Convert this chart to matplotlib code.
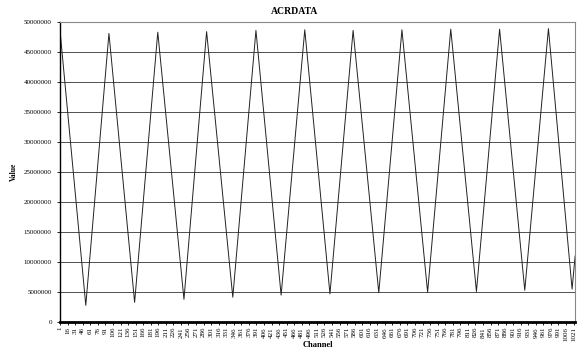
import matplotlib
matplotlib.use("Agg")
import matplotlib.pyplot as plt

# corner points of the wave (channel, value)
channels = [1, 52, 98, 149, 195, 247, 292, 344, 390, 440, 487, 537,
            583, 634, 680, 731, 777, 828, 874, 924, 971, 1018, 1024]
values = [48400000, 2800000, 48100000, 3300000, 48300000, 3800000,
          48400000, 4150000, 48600000, 4500000, 48700000, 4700000,
          48600000, 4900000, 48700000, 5000000, 48800000, 5100000,
          48800000, 5300000, 48900000, 5500000, 11000000]

x_ticks = list(range(1, 1022, 15))
y_ticks = list(range(0, 50000001, 5000000))

plt.rcParams['font.family'] = ['Liberation Serif', 'DejaVu Serif']

fig = plt.figure(figsize=(5.78, 3.49), dpi=100)
ax = fig.add_axes([0.104, 0.077, 0.891, 0.86])

ax.plot(channels, values, color='#222222', lw=0.7)

ax.set_xlim(1, 1024)
ax.set_ylim(0, 50000000)
ax.set_yticks(y_ticks)
ax.set_yticklabels([str(v) for v in y_ticks], fontsize=5)
ax.set_xticks(x_ticks)
ax.set_xticklabels([str(v) for v in x_ticks], fontsize=5, rotation=90)
ax.tick_params(axis='y', length=2, width=0.6, pad=4)
ax.tick_params(axis='x', length=2, width=0.6, pad=1.5)
ax.grid(axis='y', color='#333333', lw=0.6)

ax.spines['left'].set_linewidth(1.0)
ax.spines['bottom'].set_linewidth(2.0)
ax.spines['top'].set_color('#888888')
ax.spines['right'].set_color('#888888')
ax.spines['top'].set_linewidth(0.8)
ax.spines['right'].set_linewidth(0.8)

fig.text(0.51, 0.968, 'ACRDATA', fontsize=7, fontweight='bold',
         ha='center', va='center')
ax.set_ylabel('Value', fontsize=5.5, fontweight='bold', labelpad=4)
ax.set_xlabel('Channel', fontsize=6, fontweight='bold', labelpad=0)

fig.savefig('out.png', dpi=100)
